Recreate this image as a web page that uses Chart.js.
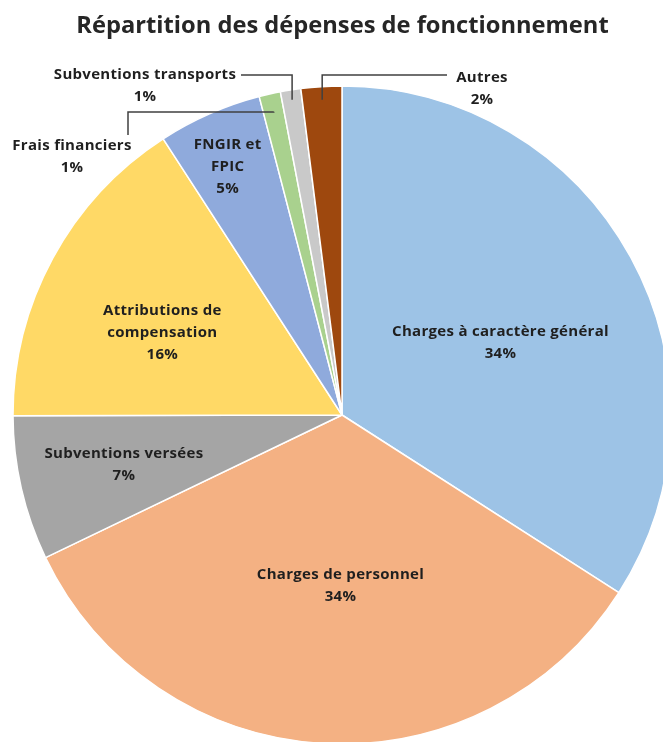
<!DOCTYPE html>
<html><head><meta charset="utf-8">
<script src="https://cdn.jsdelivr.net/npm/chart.js@4"></script>
<style>
html,body{margin:0;padding:0;background:#fff;overflow:hidden;width:663px;height:742px;}
#wrap{width:686px;height:760px;position:relative;}
</style></head>
<body><div id="wrap"><canvas id="c" width="686" height="760"></canvas></div>
<script>
const categories = ["Charges à caractère général","Charges de personnel","Subventions versées","Attributions de compensation","FNGIR et FPIC","Frais financiers","Subventions transports","Autres"];
const values = [34.1, 33.8, 7.1, 15.9, 5.1, 1.05, 1.0, 2.0];
const percentLabels = ["34%","34%","7%","16%","5%","1%","1%","2%"];
const colors = ["#9DC3E6","#F4B183","#A5A5A5","#FFD966","#8FAADC","#A9D18E","#C9C9C9","#9E480E"];
const titleText = "Répartition des dépenses de fonctionnement";

// label layout
const labelLines = [
  ["Charges à caractère général"],
  ["Charges de personnel"],
  ["Subventions versées"],
  ["Attributions de","compensation"],
  ["FNGIR et","FPIC"],
  ["Frais financiers"],
  ["Subventions transports"],
  ["Autres"]
];
const insideFrac = [0.53, 0.52, 0.68, 0.60, 0.83];
const insideAngleShift = [4, -3, 0, -4, -1];
// outside labels: text centre, leader start path; leader ends inside slice at radius fraction
const outside = {
  5: {x:72, y:146, path:[[128,135],[128,112]], frac:0.945},
  6: {x:145, y:75, path:[[241,75]], frac:0.97},
  7: {x:482, y:78, path:[[447,75]], frac:0.96}
};

const FONT = "'Open Sans', 'Noto Sans', sans-serif";

const labelPlugin = {
  id: 'labels',
  afterDraw(chart) {
    const ctx = chart.ctx;
    ctx.save();
    // title
    ctx.fillStyle = '#262626';
    ctx.font = "bold 23.7px " + FONT;
    ctx.textAlign = 'center';
    ctx.textBaseline = 'alphabetic';
    ctx.fillText(titleText, 342.5, 33);

    const meta = chart.getDatasetMeta(0);
    ctx.font = "bold 15px " + FONT;
    ctx.letterSpacing = '0.3px';
    ctx.textBaseline = 'middle';
    ctx.fillStyle = '#1f1f1f';
    meta.data.forEach((arc, i) => {
      const p = arc.getProps(['x','y','startAngle','endAngle','outerRadius'], true);
      const mid = (p.startAngle + p.endAngle)/2;
      const lines = labelLines[i].concat([percentLabels[i]]);
      if (outside[i]) {
        const o = outside[i];
        const ex = p.x + Math.cos(mid)*p.outerRadius*o.frac;
        const ey = p.y + Math.sin(mid)*p.outerRadius*o.frac;
        const last = o.path[o.path.length-1];
        ctx.strokeStyle = '#404040';
        ctx.lineWidth = 1.5;
        ctx.beginPath();
        ctx.moveTo(o.path[0][0], o.path[0][1]);
        for (let k=1;k<o.path.length;k++) ctx.lineTo(o.path[k][0], o.path[k][1]);
        ctx.lineTo(ex, last[1]);
        ctx.lineTo(ex, ey);
        ctx.stroke();
        lines.forEach((t, k) => ctx.fillText(t, o.x, o.y + k*22));
      } else {
        const a = mid + insideAngleShift[i]*Math.PI/180;
        const r = p.outerRadius*insideFrac[i];
        const cx = p.x + Math.cos(a)*r;
        const cy = p.y + Math.sin(a)*r;
        const lh = 22;
        const y0 = cy - (lines.length-1)*lh/2;
        lines.forEach((t, k) => ctx.fillText(t, cx, y0 + k*lh));
      }
    });
    ctx.restore();
  }
};

new Chart(document.getElementById('c'), {
  type: 'pie',
  data: {
    labels: categories,
    datasets: [{
      data: values,
      backgroundColor: colors,
      borderColor: '#ffffff',
      borderWidth: 1.5,
      hoverOffset: 0,
      hoverBorderWidth: 1.5
    }]
  },
  options: {
    responsive: false,
    animation: false,
    layout: { padding: { left: 12.25, right: 14.25, top: 85.25, bottom: 15.25 } },
    plugins: { legend: { display: false }, tooltip: { enabled: false }, title: { display: false } },
    events: []
  },
  plugins: [labelPlugin]
});
</script></body></html>
